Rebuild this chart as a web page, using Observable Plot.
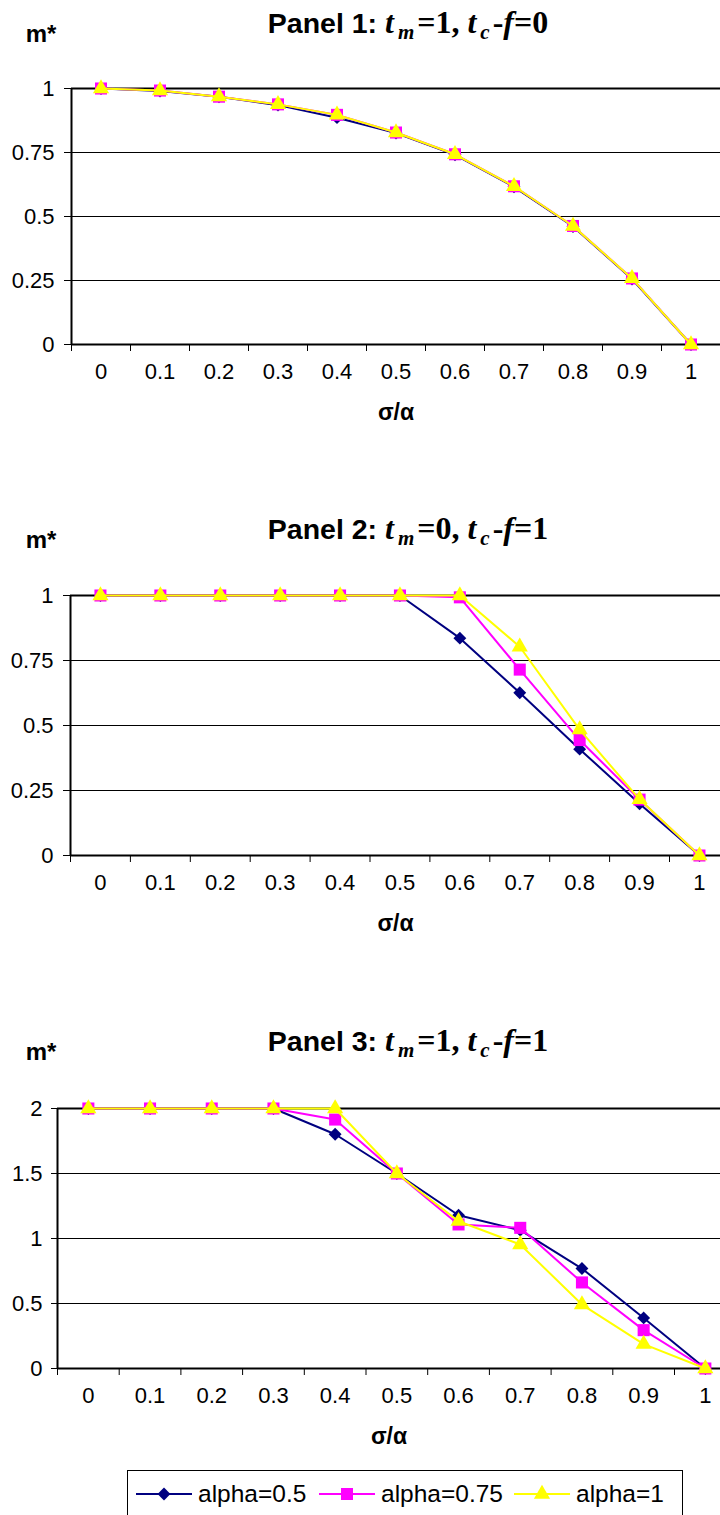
<!DOCTYPE html>
<html>
<head>
<meta charset="utf-8">
<script src="https://cdn.jsdelivr.net/npm/d3@7"></script>
<script src="https://cdn.jsdelivr.net/npm/@observablehq/plot@0.6"></script>
<style>
  html, body { margin: 0; padding: 0; background: #fff; }
  #root { position: relative; width: 720px; height: 1515px; overflow: hidden; background: #fff;
          font-family: "Liberation Sans", Arial, sans-serif; color: #000; }
  .panel { position: absolute; left: 0; width: 720px; overflow: hidden; }
  .title { position: absolute; white-space: nowrap; transform: translate(-50%, -50%); font-weight: bold; line-height: 1; }
  .title .sans { font-family: "Liberation Sans", Arial, sans-serif; font-size: 28.5px; }
  .title .serif { font-family: "Liberation Serif", "Times New Roman", serif; font-size: 32px; }
  .title sub { font-size: 21px; vertical-align: -6px; line-height: 0; margin: 0 3px 0 4px; }
  .ylab { position: absolute; font-weight: bold; font-size: 24px; transform: translate(-50%, -50%); line-height: 1; }
  .legend { position: absolute; left: 127px; top: 1470px; width: 556px; height: 70px; border: 1px solid #000;
            box-sizing: border-box; display: flex; align-items: flex-start; padding-top: 9px; padding-left: 8px; }
  .legend .item { display: flex; align-items: center; flex: none; }
  .legend .item span { font-size: 24.5px; margin-left: 6px; white-space: nowrap; }
</style>
</head>
<body>
<div id="root"></div>
<script>
// ---------- data ----------
const sigmaAlpha = [0, 0.1, 0.2, 0.3, 0.4, 0.5, 0.6, 0.7, 0.8, 0.9, 1];
const seriesNames = ["alpha=0.5", "alpha=0.75", "alpha=1"];
const seriesColors = ["#000080", "#FF00FF", "#FFFF00"];
const seriesSymbols = ["diamond2", "square", "triangle"];

const p1_a05  = [1, 0.99, 0.968, 0.935, 0.886, 0.826, 0.741, 0.616, 0.461, 0.256, 0];
const p1_a075 = [1, 0.992, 0.968, 0.938, 0.897, 0.828, 0.743, 0.618, 0.463, 0.258, 0];
const p1_a1   = [1, 0.992, 0.968, 0.938, 0.897, 0.828, 0.743, 0.618, 0.463, 0.258, 0];

const p2_a05  = [1, 1, 1, 1, 1, 1, 0.836, 0.626, 0.409, 0.199, 0];
const p2_a075 = [1, 1, 1, 1, 1, 1, 0.993, 0.715, 0.444, 0.215, 0];
const p2_a1   = [1, 1, 1, 1, 1, 1, 1, 0.803, 0.484, 0.216, 0];

const p3_a05  = [2, 2, 2, 2, 1.802, 1.5, 1.179, 1.064, 0.769, 0.389, 0];
const p3_a075 = [2, 2, 2, 2, 1.915, 1.5, 1.108, 1.082, 0.662, 0.295, 0];
const p3_a1   = [2, 2, 2, 2, 2, 1.5, 1.133, 0.954, 0.492, 0.187, 0];

const yTicksUnit = [0, 0.25, 0.5, 0.75, 1];
const yTicksTwo  = [0, 0.5, 1, 1.5, 2];

const titles = [
  {panel: "Panel 1: ", tm: "=1, ", tcf: "=0"},
  {panel: "Panel 2: ", tm: "=0, ", tcf: "=1"},
  {panel: "Panel 3: ", tm: "=1, ", tcf: "=1"}
];
const yLabel = "m*";
const xLabel = "σ/α";

// ---------- layout (styling only) ----------
const panels = [
  {series: [p1_a05, p1_a075, p1_a1], yTicks: yTicksUnit, top: 0,    height: 440, marginTop: 88, marginBottom: 96,  marginLeft: 71, band: 59.0, tickSize: 7, tickPadding: 10, titleY: 22,   ylabY: 34},
  {series: [p2_a05, p2_a075, p2_a1], yTicks: yTicksUnit, top: 508,  height: 440, marginTop: 87, marginBottom: 93,  marginLeft: 70, band: 59.9, tickSize: 7, tickPadding: 10, titleY: 528,  ylabY: 540},
  {series: [p3_a05, p3_a075, p3_a1], yTicks: yTicksTwo,  top: 1020, height: 445, marginTop: 88, marginBottom: 97,  marginLeft: 57, band: 61.7, tickSize: 6, tickPadding: 9,  titleY: 1040, ylabY: 1052}
];
const markerR = [5.8, 6.8, 6.0];
const legendItemWidths = [183, 195, 160];

const root = document.getElementById("root");
const step = sigmaAlpha[1] - sigmaAlpha[0];
const xDomain = [sigmaAlpha[0] - step / 2, sigmaAlpha[sigmaAlpha.length - 1] + step / 2];
const bounds = sigmaAlpha.map(x => x - step / 2).concat([xDomain[1]]);

panels.forEach((p, pi) => {
  const rows = [];
  p.series.forEach((vals, si) => sigmaAlpha.forEach((x, i) => rows.push({x, y: vals[i], s: seriesNames[si]})));
  const yMax = d3.max(p.yTicks);
  const seriesMarks = [];
  seriesNames.forEach((name, si) => {
    const d = rows.filter(r => r.s === name);
    seriesMarks.push(Plot.line(d, {x: "x", y: "y", stroke: "s", strokeWidth: 2}));
    seriesMarks.push(Plot.dot(d, {x: "x", y: "y", fill: "s", symbol: seriesSymbols[si], r: markerR[si]}));
  });
  const chart = Plot.plot({
    width: 720,
    height: p.height,
    marginTop: p.marginTop,
    marginBottom: p.marginBottom,
    marginLeft: p.marginLeft,
    marginRight: 0,
    style: {fontFamily: '"Liberation Sans", Arial, sans-serif', fontSize: "22px", background: "transparent", color: "#000"},
    x: {domain: xDomain, range: [p.marginLeft, p.marginLeft + 11 * p.band]},
    y: {domain: [0, yMax]},
    color: {domain: seriesNames, range: seriesColors},
    marks: [
      Plot.gridY(p.yTicks, {stroke: "#000", strokeOpacity: 1, strokeWidth: 1}),
      Plot.ruleY([yMax], {stroke: "#000", strokeWidth: 2}),
      Plot.ruleY([0], {stroke: "#000", strokeWidth: 2}),
      Plot.ruleX([xDomain[0]], {stroke: "#000", strokeWidth: 2}),
      Plot.axisY({ticks: p.yTicks, tickSize: p.tickSize, tickPadding: p.tickPadding, tickFormat: d => String(d), label: null}),
      Plot.axisX({ticks: bounds, tickSize: 7, tickFormat: () => "", label: null}),
      Plot.axisX({ticks: sigmaAlpha, tickSize: 0, tickPadding: 19, tickFormat: d => String(d), label: null}),
      ...seriesMarks,
      Plot.text([xLabel], {frameAnchor: "bottom", dy: 75, fontWeight: "bold", fontSize: 23})
    ]
  });
  const div = document.createElement("div");
  div.className = "panel";
  div.style.top = p.top + "px";
  div.style.height = p.height + "px";
  div.appendChild(chart);
  root.appendChild(div);

  const t = titles[pi];
  const title = document.createElement("div");
  title.className = "title";
  title.style.left = "408px";
  title.style.top = p.titleY + "px";
  title.innerHTML = `<span class="sans">${t.panel}</span><span class="serif"><i>t</i><sub><i>m</i></sub>${t.tm}<i>t</i><sub><i>c</i></sub>-<i>f</i>${t.tcf}</span>`;
  root.appendChild(title);

  const yl = document.createElement("div");
  yl.className = "ylab";
  yl.style.left = "41px";
  yl.style.top = p.ylabY + "px";
  yl.textContent = yLabel;
  root.appendChild(yl);
});

// legend
const legend = document.createElement("div");
legend.className = "legend";
seriesNames.forEach((name, si) => {
  const item = document.createElement("div");
  item.className = "item";
  item.style.width = legendItemWidths[si] + "px";
  const sw = d3.create("svg").attr("width", 56).attr("height", 24);
  sw.append("line").attr("x1", 0).attr("x2", 56).attr("y1", 12).attr("y2", 12)
    .attr("stroke", seriesColors[si]).attr("stroke-width", 2);
  const sym = {diamond2: d3.symbolDiamond2, square: d3.symbolSquare, triangle: d3.symbolTriangle}[seriesSymbols[si]];
  sw.append("path").attr("transform", "translate(28,12)")
    .attr("d", d3.symbol(sym, Math.PI * markerR[si] * markerR[si])())
    .attr("fill", seriesColors[si]);
  item.appendChild(sw.node());
  const sp = document.createElement("span");
  sp.textContent = name;
  item.appendChild(sp);
  legend.appendChild(item);
});
root.appendChild(legend);
</script>
</body>
</html>
